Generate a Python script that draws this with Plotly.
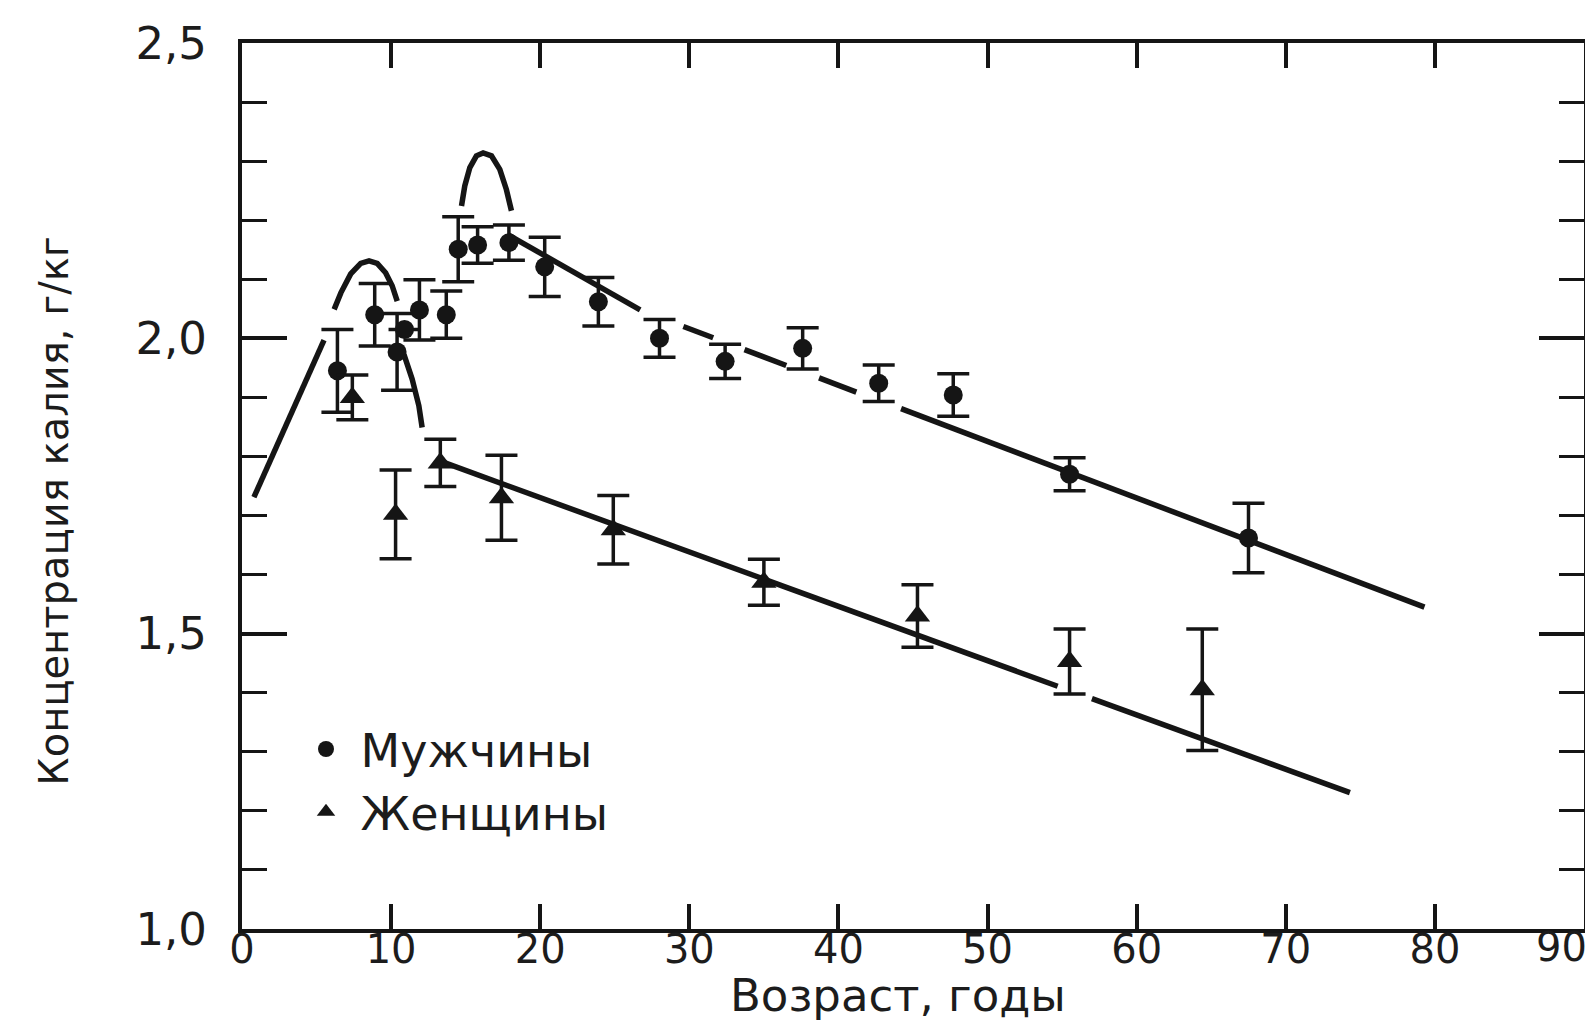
import plotly.graph_objects as go

# ---------------- data ----------------
# Men (circles)
men_age = [6.4, 8.9, 10.4, 10.9, 11.9, 13.7, 14.5, 15.8, 17.9, 20.3, 23.9, 28.0,
           32.4, 37.6, 42.7, 47.7, 55.5, 67.5]
men_val = [1.945, 2.040, 1.977, 2.015, 2.048, 2.040, 2.151, 2.158, 2.162, 2.121, 2.062, 2.000,
           1.961, 1.983, 1.924, 1.904, 1.770, 1.662]
men_err = [0.070, 0.053, 0.065, None, 0.051, 0.040, 0.055, 0.031, 0.030, 0.050, 0.041, 0.032,
           0.029, 0.035, 0.031, 0.036, 0.028, 0.059]

# Women (triangles)
women_age = [7.4, 10.3, 13.3, 17.4, 24.9, 35.0, 45.3, 55.5, 64.4]
women_val = [1.900, 1.702, 1.789, 1.730, 1.676, 1.587, 1.530, 1.453, 1.405]
women_err = [0.038, 0.075, 0.040, 0.072, 0.058, 0.039, 0.053, 0.055, 0.103]

# Hand-drawn trend curves (None = break in the drawn line)
rise_age = [0.8, 5.5]
rise_val = [1.731, 1.997]

hump1_age = [6.18, 6.63, 7.29, 7.96, 8.52, 9.07, 9.63, 10.07, 10.41, None,
             10.86, 11.41, 11.86, 12.08]
hump1_val = [2.049, 2.077, 2.109, 2.127, 2.131, 2.127, 2.111, 2.089, 2.063, None,
             1.973, 1.931, 1.886, 1.849]

hump2_age = [14.72, 14.94, 15.28, 15.72, 16.17, 16.73, 17.29, 17.73, 18.07]
hump2_val = [2.224, 2.258, 2.289, 2.309, 2.314, 2.309, 2.286, 2.252, 2.216]

men_line_age = [17.8, 26.7, None, 29.6, 31.6, None, 33.7, 36.5, None, 38.7, 41.2, None, 44.2, 79.3]
men_line_val = [2.176, 2.048, None, 2.020, 2.001, None, 1.981, 1.954, None, 1.933, 1.909, None, 1.881, 1.545]

women_line_age = [13.3, 54.7, None, 57.0, 74.3]
women_line_val = [1.792, 1.411, None, 1.390, 1.231]

x_ticks = [0, 10, 20, 30, 40, 50, 60, 70, 80, 90]
x_ticktext = ["0", "10", "20", "30", "40", "50", "60", "70", "80", ""]  # "90" placed below
x_last_label = "90"
y_ticks = [1.0, 1.5, 2.0, 2.5]
y_ticktext = ["1,0", "1,5", "2,0", "2,5"]

INK = "#151515"
TXT = "#1c1c1c"
TEXT_FONT = "DejaVu Sans"

fig = go.Figure()

for ax, av in [(rise_age, rise_val), (hump1_age, hump1_val), (hump2_age, hump2_val),
               (men_line_age, men_line_val), (women_line_age, women_line_val)]:
    fig.add_trace(go.Scatter(x=ax, y=av, mode="lines", showlegend=False,
                             connectgaps=False, hoverinfo="skip",
                             line=dict(color=INK, width=5.5)))

fig.add_trace(go.Scatter(
    x=men_age, y=men_val, mode="markers", name="\u00a0Мужчины", legendgroup="m",
    marker=dict(symbol="circle", size=19, color=INK),
    error_y=dict(type="data", array=men_err, symmetric=True, thickness=3.5,
                 width=16, color=INK)))

fig.add_trace(go.Scatter(
    x=women_age, y=women_val, mode="markers", name="\u00a0Женщины", legendgroup="w",
    marker=dict(symbol="triangle-up", size=22, color=INK),
    error_y=dict(type="data", array=women_err, symmetric=True, thickness=3.5,
                 width=16, color=INK)))

L, R, T, B = 234, 17, 35, 108.5
W, H = 1593, 1030
pw, ph = W - L - R, H - T - B

def px(xp):
    return (xp - L) / pw

def py(yp):
    return (H - B - yp) / ph

fig.update_layout(
    width=W, height=H,
    margin=dict(l=L, r=R, t=T, b=B, autoexpand=False),
    paper_bgcolor="white", plot_bgcolor="white",
    font=dict(family=TEXT_FONT, color=TXT),
    legend=dict(x=px(298), y=py(705), xanchor="left", yanchor="top",
                font=dict(family=TEXT_FONT, size=46, color=TXT),
                bgcolor="rgba(0,0,0,0)", tracegroupgap=0, itemwidth=30),
    xaxis=dict(range=[0, 90], tickvals=x_ticks, ticktext=x_ticktext,
               ticks="inside", ticklen=25,
               tickwidth=3.5, tickcolor=INK, showline=True, linewidth=4,
               linecolor=INK, mirror="ticks", showgrid=False, zeroline=False,
               automargin=False,
               tickfont=dict(family=TEXT_FONT, size=40, color=TXT),
               ticklabelstandoff=-18, ticklabeloverflow="allow"),
    yaxis=dict(range=[1.0, 2.5], tickvals=y_ticks, ticktext=y_ticktext,
               ticks="inside", ticklen=45, tickwidth=3.5, tickcolor=INK,
               showline=True, linewidth=4, linecolor=INK, mirror="ticks",
               showgrid=False, zeroline=False, automargin=False,
               minor=dict(dtick=0.1, tick0=1.0, ticks="inside", ticklen=25,
                          tickwidth=3, tickcolor=INK, showgrid=False),
               tickfont=dict(family=TEXT_FONT, size=45, color=TXT),
               ticklabelstandoff=22, ticklabeloverflow="allow"),
    annotations=[
        dict(text=x_last_label, xref="x", yref="paper",
             x=x_ticks[-1], y=py(940), showarrow=False,
             xanchor="right", yanchor="middle", xshift=5,
             font=dict(family=TEXT_FONT, size=40, color=TXT)),
        dict(text="Концентрация калия, г/кг", xref="paper", yref="paper",
             x=px(46), y=py(503), textangle=-90, showarrow=False,
             xanchor="center", yanchor="middle",
             font=dict(family=TEXT_FONT, size=40, color=TXT)),
        dict(text="Возраст, годы", xref="paper", yref="paper",
             x=px(890), y=py(988), showarrow=False,
             xanchor="center", yanchor="middle",
             font=dict(family=TEXT_FONT, size=45, color=TXT)),
    ],
)

fig.write_html("out.html")
